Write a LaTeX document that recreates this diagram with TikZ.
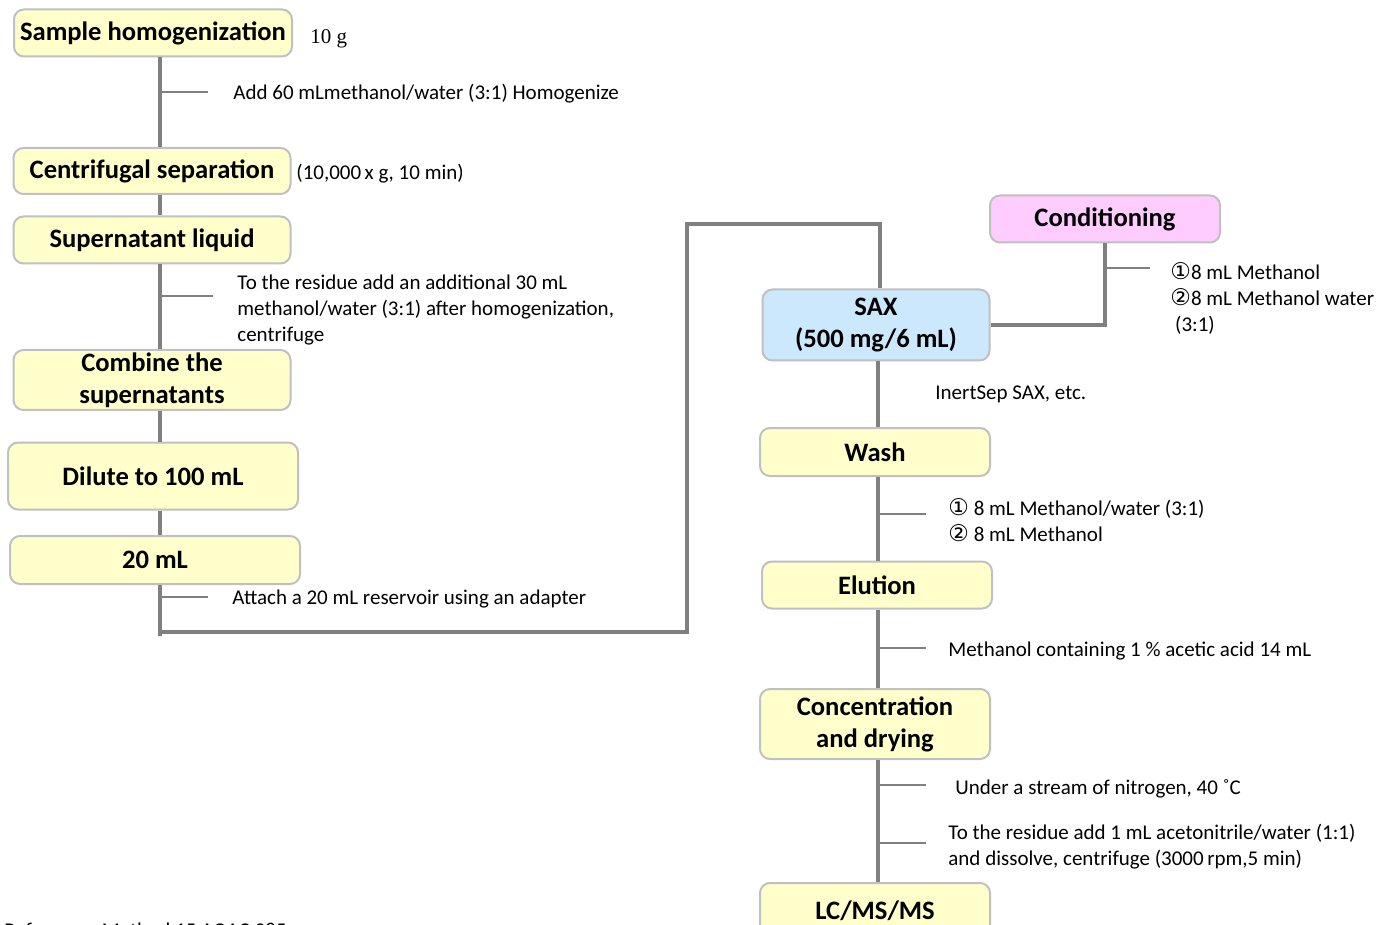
\documentclass[tikz,border=0pt]{standalone}
\usepackage{fontspec}
\setmainfont{Carlito}
\newfontfamily\circfont{DejaVu Sans}
\newfontfamily\numfont{Liberation Serif}
\usepackage{tikz}
\usetikzlibrary{calc}
\definecolor{boxyellow}{HTML}{FFFFCC}
\definecolor{boxpink}{HTML}{FFCCFF}
\definecolor{boxblue}{HTML}{CCE8FC}
\definecolor{boxline}{HTML}{C0C0C0}
\definecolor{flowgray}{HTML}{808080}

\begin{document}
\begin{tikzpicture}[x=0.5pt,y=-0.5pt,line join=miter,
  step node/.style={draw=boxline,line width=1pt,rounded corners=5pt,fill=boxyellow,
    font=\bfseries\fontsize{13.3}{16}\selectfont,align=center,inner sep=0pt},
  note/.style={font=\fontsize{10.5}{13}\selectfont,align=left,anchor=west,inner sep=0pt,yshift=-1pt},
  flow/.style={draw=flowgray,line width=2pt},
  tick/.style={draw=flowgray,line width=0.8pt}]

  \useasboundingbox[fill=white] (0,0) rectangle (1377,925);
  \coordinate (sp) at (160,0);
  \coordinate (rs) at (878,0);

  % left column
  \node[step node,minimum width=139pt,minimum height=23.5pt] (1) at (153,33) {Sample homogenization};
  \node[step node,minimum width=138.5pt,minimum height=23pt] (2) at (152,171) {Centrifugal separation};
  \node[step node,minimum width=138.5pt,minimum height=23.5pt] (3) at (152,240) {Supernatant liquid};
  \node[step node,minimum width=138.5pt,minimum height=30pt] (4) at (152,380) {Combine the\\supernatants};
  \node[step node,minimum width=145pt,minimum height=33.5pt] (5) at (153,476) {Dilute to 100 mL};
  \node[step node,minimum width=145pt,minimum height=24pt] (6) at (155,560) {20 mL};

  % right column
  \node[step node,fill=boxblue,minimum width=113.5pt,minimum height=35.5pt] (7) at (876,325) {SAX\\(500 mg/6 mL)};
  \node[step node,fill=boxpink,minimum width=115pt,minimum height=23.5pt] (8) at (1105,219) {Conditioning};
  \node[step node,minimum width=115pt,minimum height=24pt] (9) at (875,452) {Wash};
  \node[step node,minimum width=115pt,minimum height=23.5pt] (10) at (877,585) {Elution};
  \node[step node,minimum width=115pt,minimum height=35pt] (11) at (875,724) {Concentration\\and drying};
  \node[step node,minimum width=115pt,minimum height=28pt] (12) at (875,911) {LC/MS/MS};

  % corners of the long connector
  \coordinate (k1) at (160,632);
  \coordinate (k2) at (687,632);
  \coordinate (k3) at (687,224);
  \coordinate (k4) at (880,224);

  \path[flow]
    (1.south -| sp) edge (2.north -| sp)
    (2.south -| sp) edge (3.north -| sp)
    (3.south -| sp) edge (4.north -| sp)
    (4.south -| sp) edge (5.north -| sp)
    (5.south -| sp) edge (6.north -| sp)
    (7.south -| rs) edge (9.north -| rs)
    (9.south -| rs) edge (10.north -| rs)
    (10.south -| rs) edge (11.north -| rs)
    (11.south -| rs) edge (12.north -| rs);
  \draw[flow] (6.south -| sp) -- ([yshift=-2pt]k1) -- (k1) -- (k2) -- (k3) -- (k4) -- (7.north -| k4);
  \draw[flow] (7.east) -| (8.south);

  % side ticks
  \foreach \y in {92,597}
    \draw[tick] (160,\y) -- ++(48,0);
  \draw[tick] (160,296) -- ++(53,0);
  \foreach \y in {514,648,785,843}
    \draw[tick] (878,\y) -- ++(48,0);
  \draw[tick] (1105,268) -- ++(45,0);

  % notes
  \node[note,font=\numfont\fontsize{10.5}{13}\selectfont] (n1) at (310,37) {10 g};
  \node[note] (n2) at (233,92) {Add 60 mLmethanol/water (3:1) Homogenize};
  \node[note] (n3) at (296,172) {(10,000\,x g, 10 min)};
  \node[note] (n4) at (237,308) {To the residue add an additional 30 mL\\methanol/water (3:1) after homogenization,\\centrifuge};
  \node[note] (n5) at (232,597) {Attach a 20 mL reservoir using an adapter};
  \node[note] (n6) at (1170,296) {{\circfont\fontsize{11.5}{13}\selectfont ①}8 mL Methanol\\{\circfont\fontsize{11.5}{13}\selectfont ②}8 mL Methanol water\\\ (3:1)};
  \node[note] (n7) at (935,392) {InertSep SAX, etc.};
  \node[note] (n8) at (948,518) {{\circfont\fontsize{11.5}{13}\selectfont ①} 8 mL Methanol/water (3:1)\\{\circfont\fontsize{11.5}{13}\selectfont ②} 8 mL Methanol};
  \node[note] (n9) at (948,649) {Methanol containing 1 \% acetic acid 14 mL};
  \node[note] (n10) at (955,787) {Under a stream of nitrogen, 40 ˚C};
  \node[note] (n11) at (948,845) {To the residue add 1 mL acetonitrile/water (1:1)\\and dissolve, centrifuge (3000\,rpm,5 min)};
  \node[note] (n12) at (4,928) {Reference: Method 15 AOAC 985};
\end{tikzpicture}
\end{document}
